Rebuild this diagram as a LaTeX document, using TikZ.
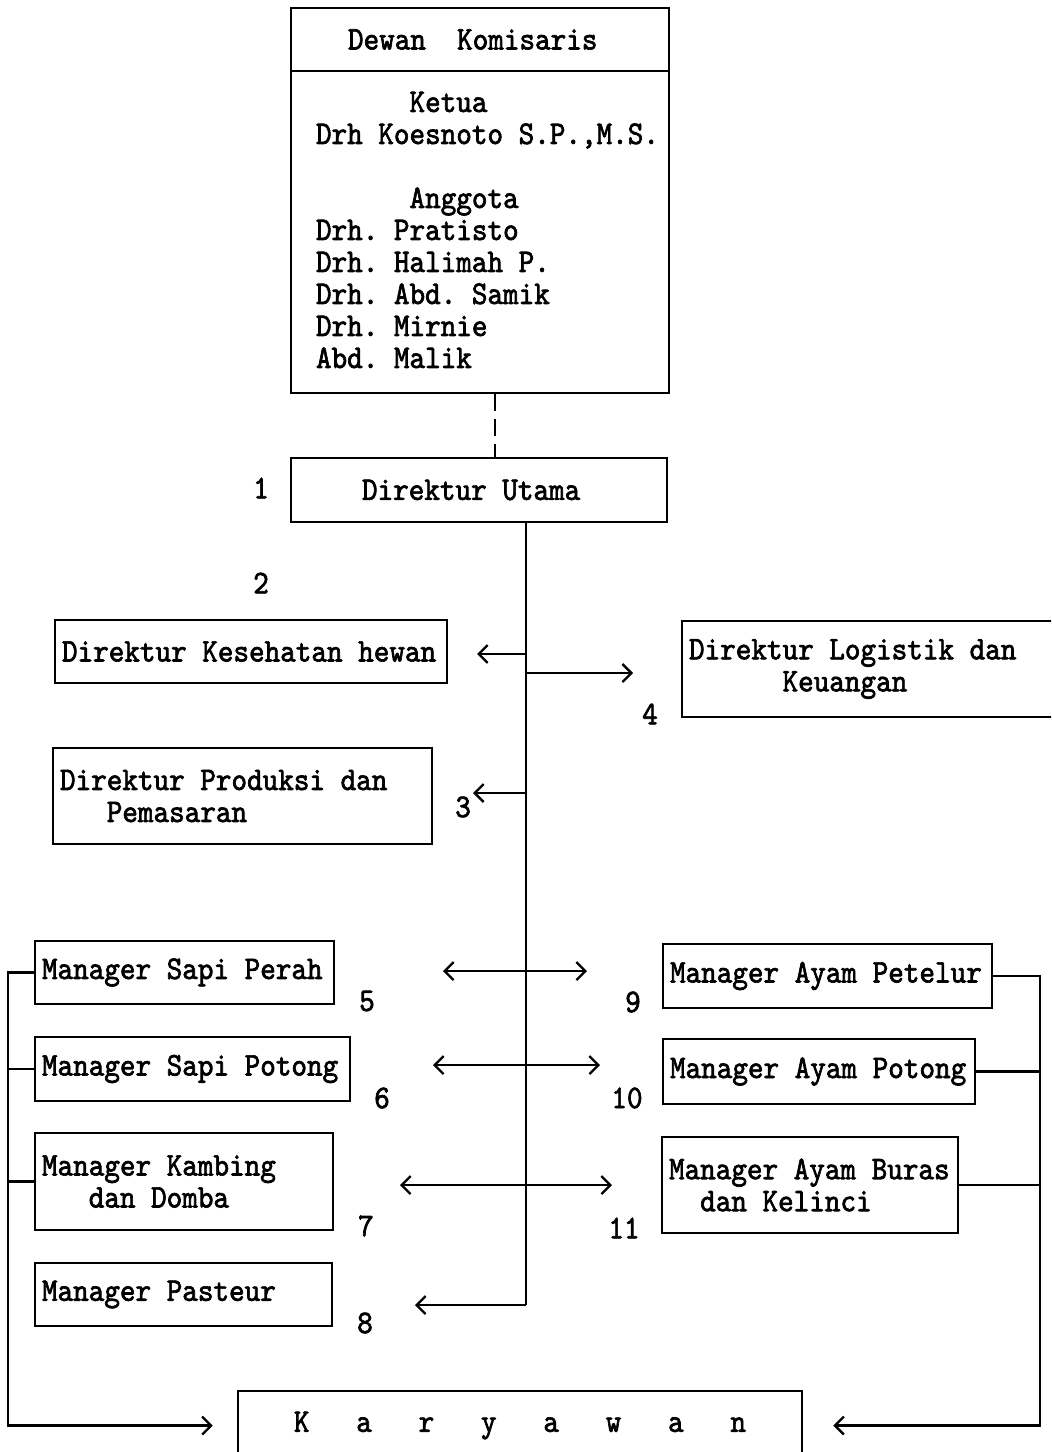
\documentclass[tikz,border=0pt]{standalone}
\usepackage{fontspec}
\usetikzlibrary{arrows.meta}
\newfontfamily\myttfam{lmmono10-regular.otf}[FakeBold=2,FakeStretch=0.9]
\newcommand{\orgfont}{\myttfam\fontsize{33bp}{32bp}\selectfont\fontdimen2\font=15.59bp\fontdimen3\font=0pt\fontdimen4\font=0pt\fontdimen7\font=0pt\frenchspacing}
\begin{document}
\begin{tikzpicture}[x=1bp,y=-1bp,
  bx/.style={draw, line width=2.5bp, inner xsep=7bp, inner ysep=0pt, align=flush left, font=\orgfont},
  lab/.style={inner sep=0pt, font=\orgfont},
  ln/.style={line width=2.3bp},
  arr/.style={ln, -{Straight Barb[length=9bp,width=18bp]}},
  darr/.style={ln, {Straight Barb[length=9bp,width=18bp]}-{Straight Barb[length=9bp,width=18bp]}}]
\useasboundingbox (0,0) rectangle (1051,1452);
\fill[white] (0,0) rectangle (1051,1452);
\clip (0,0) rectangle (1051,1452);

% boxes
\node[bx, inner xsep=57bp, minimum width=378bp, minimum height=63bp, text width=264bp] (komhead) at (480,39.5) {Dewan\ \ Komisaris};
\node[bx, inner xsep=25bp, minimum width=378bp, minimum height=322bp, text width=328bp] (kombody) at (480,232) {%
\phantom{xxxxxx}Ketua\\
\mbox{Drh Koesnoto S.P.,M.S.}\\[32bp]
\phantom{xxxxxx}Anggota\\
Drh. Pratisto\\
Drh. Halimah P.\\
Drh. Abd. Samik\\
Drh. Mirnie\\
Abd. Malik\vspace*{4bp}};
\node[bx, inner xsep=71bp, minimum width=376bp, minimum height=64bp, text width=234bp] (dirut) at (479,490) {Direktur Utama};
\node[bx, minimum width=392bp, minimum height=63bp, text width=378bp] (kes) at (251,651.5) {Direktur Kesehatan hewan};
\node[bx, minimum width=388bp, minimum height=96bp, text width=374bp] (log) at (876,669) {Direktur Logistik dan\\\phantom{xxxxxx}Keuangan};
\node[bx, minimum width=379bp, minimum height=96bp, text width=365bp] (prod) at (242.5,796) {Direktur Produksi dan\\\phantom{xxx}Pemasaran};
\node[bx, minimum width=299bp, minimum height=63bp, text width=285bp] (sperah) at (184.5,972.5) {Manager Sapi Perah};
\node[bx, minimum width=315bp, minimum height=64bp, text width=301bp] (spotong) at (192.5,1069) {Manager Sapi Potong};
\node[bx, minimum width=298bp, minimum height=97bp, text width=284bp] (kambing) at (184,1181.5) {Manager Kambing\\\phantom{xxx}dan Domba};
\node[bx, minimum width=297bp, minimum height=63bp, text width=283bp] (pasteur) at (183.5,1294.5) {Manager Pasteur};
\node[bx, minimum width=329bp, minimum height=64bp, text width=315bp] (petelur) at (827.5,976) {Manager Ayam Petelur};
\node[bx, minimum width=312bp, minimum height=65bp, text width=298bp] (apotong) at (819,1071.5) {Manager Ayam Potong};
\node[bx, minimum width=296bp, minimum height=96bp, text width=282bp] (buras) at (810,1185) {Manager Ayam Buras\\\phantom{xx}dan Kelinci};
\node[bx, align=flush center, minimum width=564bp, minimum height=69bp, text width=550bp] (karyawan) at (520,1425.5) {K\ \ \ a\ \ \ r\ \ \ y\ \ \ a\ \ \ w\ \ \ a\ \ \ n};

% number labels
\node[lab] (n1) at (261,488) {1};
\node[lab] (n2) at (261,583) {2};
\node[lab] (n3) at (463,807) {3};
\node[lab] (n4) at (650,714) {4};
\node[lab] (n5) at (367,1001) {5};
\node[lab] (n6) at (382,1098) {6};
\node[lab] (n7) at (366,1226) {7};
\node[lab] (n8) at (365,1323) {8};
\node[lab] (n9) at (633,1002) {9};
\node[lab] (n10) at (627,1098) {10};
\node[lab] (n11) at (624,1228) {11};

% coordinates
\coordinate (dsx) at (495,0);
\coordinate (tK) at (526,654);
\coordinate (tL) at (526,673);
\coordinate (tP) at (526,793);
\coordinate (tE) at (526,1305);
\coordinate (aK) at (477,654);
\coordinate (aL) at (633,673);
\coordinate (aP) at (473,793);
\coordinate (aE) at (415,1305);
\coordinate (d5a) at (443,971);
\coordinate (d5b) at (587,971);
\coordinate (d6a) at (433,1065);
\coordinate (d6b) at (600,1065);
\coordinate (d7a) at (400,1185);
\coordinate (d7b) at (612,1185);
\coordinate (lbx) at (8,0);
\coordinate (rbx) at (1040,0);

% connectors
\draw[ln, dash pattern=on 17bp off 8bp] (kombody.south -| dsx) -- (dirut.north -| dsx);
\draw[ln] (dirut.south -| tK) -- (tE);
\draw[arr] (tK) -- (aK);
\draw[arr] (tL) -- (aL);
\draw[arr] (tP) -- (aP);
\draw[arr] (tE) -- (aE);
\draw[darr] (d5a) -- (d5b);
\draw[darr] (d6a) -- (d6b);
\draw[darr] (d7a) -- (d7b);

\draw[arr] (sperah.west) -- (sperah.west -| lbx) |- ([xshift=-24bp]karyawan.west);
\draw[ln] (spotong.west) -- (spotong.west -| lbx);
\draw[ln] (kambing.west) -- (kambing.west -| lbx);

\draw[arr] (petelur.east) -- (petelur.east -| rbx) |- ([xshift=30bp]karyawan.east);
\draw[ln] (apotong.east) -- (apotong.east -| rbx);
\draw[ln] (buras.east) -- (buras.east -| rbx);
\end{tikzpicture}
\end{document}
